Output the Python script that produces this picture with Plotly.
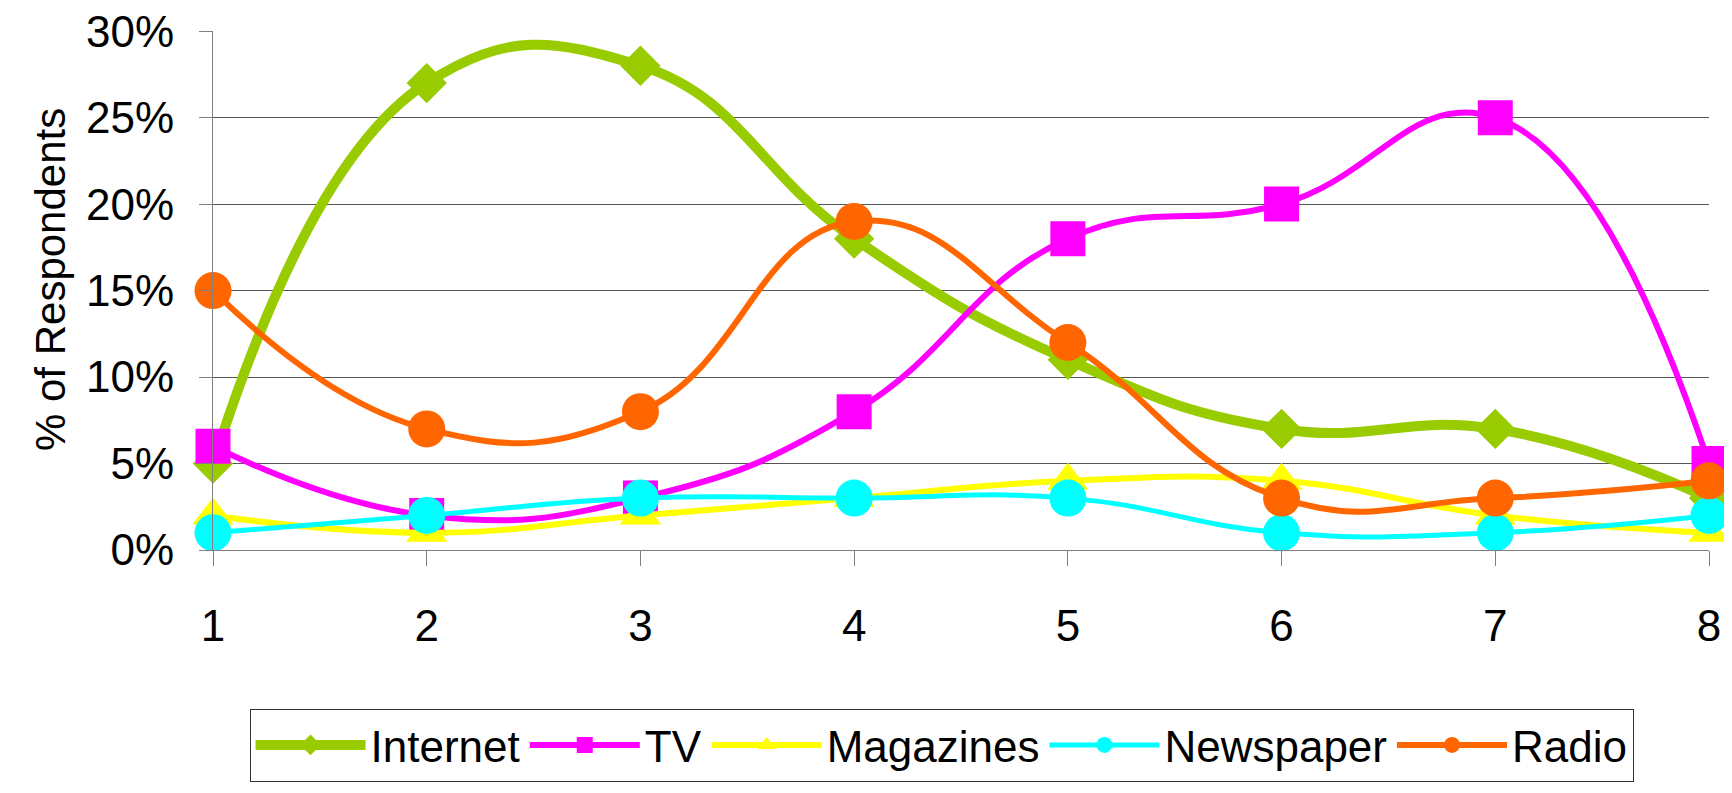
import plotly.graph_objects as go

x_vals = [1, 2, 3, 4, 5, 6, 7, 8]
internet = [0.05, 0.27, 0.28, 0.18, 0.11, 0.07, 0.07, 0.03]
tv = [0.06, 0.02, 0.03, 0.08, 0.18, 0.20, 0.25, 0.05]
magazines = [0.02, 0.01, 0.02, 0.03, 0.04, 0.04, 0.02, 0.01]
newspaper = [0.01, 0.02, 0.03, 0.03, 0.03, 0.01, 0.01, 0.02]
radio = [0.15, 0.07, 0.08, 0.19, 0.12, 0.03, 0.03, 0.04]
y_ticks = [0, 0.05, 0.1, 0.15, 0.2, 0.25, 0.3]
y_ticktext = ["0%", "5%", "10%", "15%", "20%", "25%", "30%"]

series = [
    ("Internet", internet, "#99CC00", 10, "diamond", 31),
    ("TV", tv, "#FF00FF", 6, "square", 35),
    ("Magazines", magazines, "#FFFF00", 6, "triangle-up", 36),
    ("Newspaper", newspaper, "#00FFFF", 5, "circle", 37),
    ("Radio", radio, "#FF6600", 6, "circle", 37),
]

fig = go.Figure()
for name, vals, color, lw, sym, ms in series:
    fig.add_trace(go.Scatter(
        x=x_vals, y=vals, name=name, mode="lines+markers",
        line=dict(color=color, width=lw, shape="spline", smoothing=1.3),
        marker=dict(symbol=sym, size=ms, color=color, line=dict(width=0)),
        cliponaxis=False,
    ))

FONT = "Liberation Sans, Arial, sans-serif"
fig.update_layout(
    width=1732, height=793,
    margin=dict(l=205, r=31, t=23, b=251),
    plot_bgcolor="white", paper_bgcolor="white",
    font=dict(family=FONT, size=44, color="black"),
    showlegend=True,
    legend=dict(
        orientation="h", x=0.487, xanchor="center", y=-0.306, yanchor="top",
        bordercolor="#333333", borderwidth=1, bgcolor="white",
        font=dict(family=FONT, size=44, color="black"),
        itemwidth=110, tracegroupgap=0,
    ),
    xaxis=dict(
        range=[1, 8], tickvals=x_vals, ticktext=[str(v) for v in x_vals],
        showgrid=False, zeroline=False, showline=True, linecolor="#808080", linewidth=1,
        ticks="outside", ticklen=15, tickcolor="#808080", ticklabelstandoff=22,
        automargin=False, ticklabeloverflow="allow",
    ),
    yaxis=dict(
        range=[0, 0.3001], tickvals=y_ticks, ticktext=y_ticktext,
        showgrid=True, gridcolor="#555555", gridwidth=1, zeroline=False,
        showline=True, linecolor="#808080", linewidth=1,
        ticks="outside", ticklen=13, tickcolor="#808080", ticklabelstandoff=16,
        automargin=False, ticklabeloverflow="allow",
    ),
    annotations=[dict(
        text="% of Respondents", xref="paper", yref="paper",
        x=-0.109, y=0.522, xanchor="center", yanchor="middle",
        textangle=-90, showarrow=False, font=dict(family=FONT, size=42, color="black"),
    )],
)

fig.write_html("out.html")
